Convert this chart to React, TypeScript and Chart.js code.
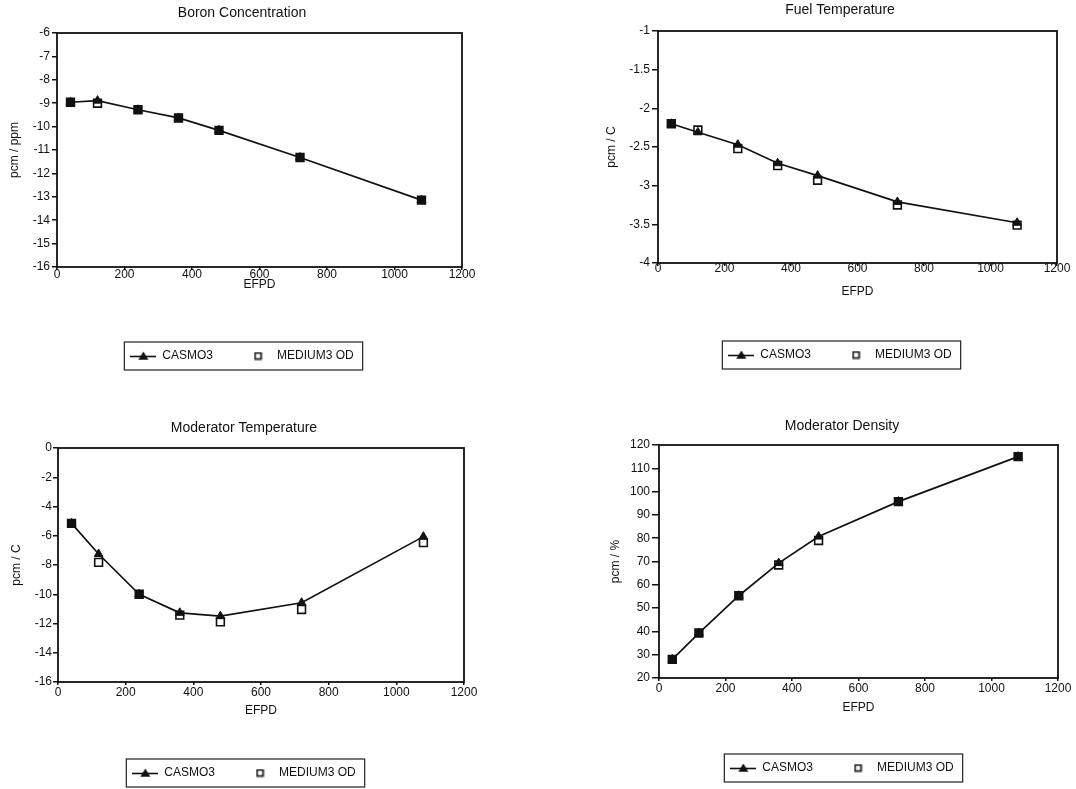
import React, { useEffect, useRef } from 'react';
import { Chart, registerables } from 'chart.js';

Chart.register(...registerables);

// ---------------- data ----------------
const EFPD = [40, 120, 240, 360, 480, 720, 1080];
const SERIES_NAMES = ['CASMO3', 'MEDIUM3 OD'];
const X_AXIS_TITLE = 'EFPD';
const X_MIN = 0;
const X_MAX = 1200;
const X_STEP = 200;

const BORON_CASMO = [-8.96, -8.89, -9.28, -9.63, -10.16, -11.32, -13.14];
const BORON_MEDIUM = [-8.96, -9.0, -9.28, -9.63, -10.16, -11.32, -13.14];

const FUEL_CASMO = [-2.2, -2.31, -2.47, -2.71, -2.87, -3.21, -3.48];
const FUEL_MEDIUM = [-2.2, -2.28, -2.52, -2.74, -2.93, -3.25, -3.51];

const MODT_CASMO = [-5.15, -7.25, -10.0, -11.27, -11.5, -10.58, -6.06];
const MODT_MEDIUM = [-5.15, -7.82, -10.0, -11.43, -11.89, -11.04, -6.47];

const MODD_CASMO = [28, 39.3, 55.3, 69.3, 80.7, 95.7, 115];
const MODD_MEDIUM = [28, 39.3, 55.3, 68.5, 79, 95.7, 115];

const TITLES = ['Boron Concentration', 'Fuel Temperature', 'Moderator Temperature', 'Moderator Density'];
const Y_TITLES = ['pcm / ppm', 'pcm / C', 'pcm / C', 'pcm / %'];
const Y_RANGES = [
  { min: -16, max: -6, step: 1 },
  { min: -4, max: -1, step: 0.5 },
  { min: -16, max: 0, step: 2 },
  { min: 20, max: 120, step: 10 },
];

// ---------------- layout (positions / sizes only) ----------------
type Layout = {
  left: number; top: number; width: number; height: number;
  yAxisW: number; rightW: number;
  titlePadTop: number; titlePadBottom: number;
  xAxisH: number; xTickPad: number; xTitlePadBottom: number;
  yTickLen: number; yTickPad: number; yTitlePadTop: number;
};

const LAYOUTS: Layout[] = [
  { left: 0, top: 0, width: 484, height: 372, yAxisW: 57, rightW: 22, titlePadTop: 4.6, titlePadBottom: 11.6,
    xAxisH: 51, xTickPad: -2.6, xTitlePadBottom: 25.8, yTickLen: 5, yTickPad: 2, yTitlePadTop: 7.8 },
  { left: 604, top: 0, width: 472, height: 371, yAxisW: 54, rightW: 19, titlePadTop: 1.6, titlePadBottom: 12.6,
    xAxisH: 54, xTickPad: -4.6, xTitlePadBottom: 17.8, yTickLen: 6, yTickPad: 2, yTitlePadTop: 0.8 },
  { left: 0, top: 394, width: 488, height: 395, yAxisW: 58, rightW: 24, titlePadTop: 25.6, titlePadBottom: 11.6,
    xAxisH: 53, xTickPad: 0.3, xTitlePadBottom: 16.8, yTickLen: 5, yTickPad: 1, yTitlePadTop: 9.8 },
  { left: 608, top: 394, width: 468, height: 390, yAxisW: 51, rightW: 18, titlePadTop: 23.6, titlePadBottom: 10.6,
    xAxisH: 52, xTickPad: 0.8, xTitlePadBottom: 14.8, yTickLen: 7, yTickPad: 2, yTitlePadTop: 0 },
];

const FONT = 'Liberation Sans, Arial, Helvetica, sans-serif';
const INK = '#111';

function makeCasmoIcon(): HTMLCanvasElement {
  const c = document.createElement('canvas');
  c.width = 26; c.height = 10;
  const g = c.getContext('2d')!;
  g.strokeStyle = INK; g.lineWidth = 1.6;
  g.beginPath(); g.moveTo(0, 5.5); g.lineTo(26, 5.5); g.stroke();
  g.fillStyle = INK;
  g.beginPath(); g.moveTo(13, 0.5); g.lineTo(18, 8.8); g.lineTo(8, 8.8); g.closePath(); g.fill();
  return c;
}

function makeMediumIcon(): HTMLCanvasElement {
  const c = document.createElement('canvas');
  c.width = 9; c.height = 9;
  const g = c.getContext('2d')!;
  g.strokeStyle = INK; g.lineWidth = 1.6;
  g.strokeRect(1.5, 1.5, 6, 6);
  return c;
}

const framePlugin = {
  id: 'plotFrame',
  afterDatasetsDraw(chart: any) {
    const { ctx, chartArea } = chart;
    ctx.save();
    ctx.strokeStyle = INK;
    ctx.lineWidth = 1.8;
    ctx.strokeRect(chartArea.left, chartArea.top, chartArea.right - chartArea.left, chartArea.bottom - chartArea.top);
    ctx.restore();
  },
};

const legendFramePlugin = {
  id: 'legendFrame',
  afterDraw(chart: any) {
    const lg = chart.legend;
    if (!lg || !lg.legendHitBoxes || !lg.legendHitBoxes.length) return;
    const hb = lg.legendHitBoxes;
    const first = hb[0];
    const last = hb[hb.length - 1];
    const left = first.left - 6;
    const right = last.left + last.width + 9;
    const cy = first.top + first.height / 2;
    const { ctx } = chart;
    ctx.save();
    ctx.strokeStyle = '#222';
    ctx.lineWidth = 1.2;
    ctx.strokeRect(left, cy - 14, right - left, 28);
    ctx.restore();
  },
};

function ChartPanel({ idx, casmo, medium }: { idx: number; casmo: number[]; medium: number[] }) {
  const ref = useRef<HTMLCanvasElement | null>(null);
  const L = LAYOUTS[idx];
  useEffect(() => {
    if (!ref.current) return;
    const casmoIcon = makeCasmoIcon();
    const mediumIcon = makeMediumIcon();
    const yr = Y_RANGES[idx];
    const chart = new Chart(ref.current, {
      type: 'line',
      data: {
        datasets: [
          {
            label: SERIES_NAMES[0],
            data: EFPD.map((x, i) => ({ x, y: casmo[i] })),
            borderColor: INK,
            borderWidth: 1.7,
            backgroundColor: INK,
            pointStyle: 'triangle',
            pointRadius: 5,
            pointBackgroundColor: INK,
            pointBorderColor: INK,
            pointBorderWidth: 1,
            tension: 0,
            showLine: true,
          },
          {
            label: SERIES_NAMES[1],
            data: EFPD.map((x, i) => ({ x, y: medium[i] })),
            showLine: false,
            borderColor: INK,
            pointStyle: 'rect',
            pointRadius: 5.5,
            pointBorderWidth: 1.6,
            pointBorderColor: INK,
            pointBackgroundColor: (c: any) => {
              const i = c.dataIndex;
              if (i === undefined) return '#fff';
              return medium[i] === casmo[i] ? INK : '#fff';
            },
          },
        ],
      },
      options: {
        responsive: false,
        animation: false,
        events: [],
        layout: { padding: 0 },
        scales: {
          x: {
            type: 'linear',
            position: 'bottom',
            min: X_MIN,
            max: X_MAX,
            afterFit: (s: any) => { s.height = L.xAxisH; },
            ticks: {
              stepSize: X_STEP,
              autoSkip: false,
              maxRotation: 0,
              padding: L.xTickPad,
              color: INK,
              font: { family: FONT, size: 12 },
              callback: (v: any) => String(v),
            },
            grid: { display: true, drawOnChartArea: false, drawTicks: true, tickLength: 3, color: INK, lineWidth: 1.5 },
            border: { display: false },
            title: {
              display: true,
              text: X_AXIS_TITLE,
              color: INK,
              font: { family: FONT, size: 12 },
              padding: { top: 0, bottom: L.xTitlePadBottom },
            },
          },
          y: {
            type: 'linear',
            position: 'left',
            min: yr.min,
            max: yr.max,
            afterFit: (s: any) => { s.width = L.yAxisW; },
            ticks: {
              stepSize: yr.step,
              autoSkip: false,
              padding: L.yTickPad,
              color: INK,
              font: { family: FONT, size: 12 },
              callback: (v: any) => String(v),
            },
            grid: { display: true, drawOnChartArea: false, drawTicks: true, tickLength: L.yTickLen, color: INK, lineWidth: 1.5 },
            border: { display: false },
            title: {
              display: true,
              text: Y_TITLES[idx],
              color: INK,
              font: { family: FONT, size: 12 },
              padding: { top: L.yTitlePadTop, bottom: 0 },
            },
          },
          y2: {
            type: 'linear',
            position: 'right',
            display: true,
            afterFit: (s: any) => { s.width = L.rightW; },
            ticks: { display: false },
            grid: { display: false },
            border: { display: false },
          },
        },
        plugins: {
          title: {
            display: true,
            text: TITLES[idx],
            color: INK,
            font: { family: FONT, size: 14, weight: 'normal' },
            padding: { top: L.titlePadTop, bottom: L.titlePadBottom },
          },
          legend: {
            display: true,
            position: 'bottom',
            labels: {
              usePointStyle: true,
              pointStyleWidth: 26,
              padding: 32,
              color: INK,
              font: { family: FONT, size: 12 },
              generateLabels: () => [
                { text: SERIES_NAMES[0], pointStyle: casmoIcon, fillStyle: INK, strokeStyle: INK, lineWidth: 1, hidden: false, datasetIndex: 0, fontColor: INK },
                { text: SERIES_NAMES[1], pointStyle: mediumIcon, fillStyle: '#fff', strokeStyle: INK, lineWidth: 1, hidden: false, datasetIndex: 1, fontColor: INK },
              ],
            },
          },
          tooltip: { enabled: false },
        },
      } as any,
      plugins: [framePlugin, legendFramePlugin],
    });
    return () => chart.destroy();
  }, [idx, casmo, medium]);

  return (
    <canvas
      ref={ref}
      width={L.width}
      height={L.height}
      style={{ position: 'absolute', left: L.left, top: L.top, width: L.width, height: L.height }}
    />
  );
}

export default function App() {
  return (
    <div style={{ position: 'absolute', left: 0, top: 0, width: 1076, height: 789, overflow: 'hidden', background: '#fff' }}>
      <ChartPanel idx={0} casmo={BORON_CASMO} medium={BORON_MEDIUM} />
      <ChartPanel idx={1} casmo={FUEL_CASMO} medium={FUEL_MEDIUM} />
      <ChartPanel idx={2} casmo={MODT_CASMO} medium={MODT_MEDIUM} />
      <ChartPanel idx={3} casmo={MODD_CASMO} medium={MODD_MEDIUM} />
    </div>
  );
}
